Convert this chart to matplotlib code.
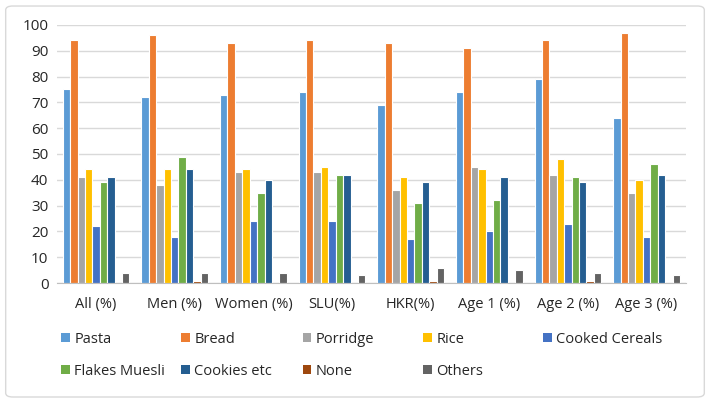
import matplotlib
matplotlib.use("Agg")
import matplotlib.pyplot as plt
import numpy as np
from matplotlib.patches import FancyBboxPatch, Patch

categories = ["All (%)", "Men (%)", "Women (%)", "SLU(%)", "HKR(%)", "Age 1 (%)", "Age 2 (%)", "Age 3 (%)"]
series_names = ["Pasta", "Bread", "Porridge", "Rice", "Cooked Cereals",
                "Flakes Muesli", "Cookies etc", "None", "Others"]
pasta = [75, 72, 73, 74, 69, 74, 79, 64]
bread = [94, 96, 93, 94, 93, 91, 94, 97]
porridge = [41, 38, 43, 43, 36, 45, 42, 35]
rice = [44, 44, 44, 45, 41, 44, 48, 40]
cooked_cereals = [22, 18, 24, 24, 17, 20, 23, 18]
flakes_muesli = [39, 49, 35, 42, 31, 32, 41, 46]
cookies_etc = [41, 44, 40, 42, 39, 41, 39, 42]
none = [0, 1, 0, 0, 1, 0, 1, 0]
others = [4, 4, 4, 3, 6, 5, 4, 3]
yticks = [0, 10, 20, 30, 40, 50, 60, 70, 80, 90, 100]

series = [pasta, bread, porridge, rice, cooked_cereals, flakes_muesli, cookies_etc, none, others]
colors = ["#5B9BD5", "#ED7D31", "#A5A5A5", "#FFC000", "#4472C4",
          "#70AD47", "#255E91", "#9E480E", "#636363"]

plt.rcParams['font.family'] = ['Open Sans', 'DejaVu Sans']

fig = plt.figure(figsize=(7.1, 4.01), dpi=100)
ax = fig.add_axes([0.080, 0.294, 0.886, 0.644])

n = len(series)
x = np.arange(len(categories))
slot = 1.0 / (n + 1.6)
for i, (vals, c) in enumerate(zip(series, colors)):
    offs = (i - (n - 1) / 2) * slot
    ax.bar(x + offs, vals, width=slot, color=c, edgecolor="white", linewidth=0.8, zorder=3)

ax.set_xlim(-0.5, len(categories) - 0.5)
ax.set_ylim(0, 100)
ax.set_yticks(yticks)
ax.set_xticks(x)
ax.set_xticklabels(categories, fontsize=10.5, color="#262626")
ax.tick_params(axis="y", labelsize=11, colors="#262626", length=0, pad=6)
ax.tick_params(axis="x", length=0, pad=10)
ax.grid(axis="y", color="#D9D9D9", linewidth=1, zorder=0)
for s in ["top", "right", "left"]:
    ax.spines[s].set_visible(False)
ax.spines["bottom"].set_color("#BFBFBF")
ax.spines["bottom"].set_zorder(4)

# legend columns
cols = [[0, 5], [1, 6], [2, 7], [3, 8], [4]]
col_x = [0.078, 0.247, 0.418, 0.588, 0.757]
for cx, idxs in zip(col_x, cols):
    handles = [Patch(facecolor=colors[k], edgecolor="none") for k in idxs]
    labels = [series_names[k] for k in idxs]
    fig.legend(handles, labels, loc="upper left", bbox_to_anchor=(cx, 0.187),
               frameon=False, fontsize=10.5, handlelength=0.6, handleheight=0.6,
               handletextpad=0.3, labelspacing=1.15, borderaxespad=0,
               labelcolor="#262626")

border = FancyBboxPatch((0.008, 0.01), 0.984, 0.975, boxstyle="round,pad=0,rounding_size=0.01",
                        transform=fig.transFigure, fill=False, edgecolor="#D9D9D9", linewidth=1)
fig.patches.append(border)

fig.savefig("out.png", dpi=100, facecolor="white")
